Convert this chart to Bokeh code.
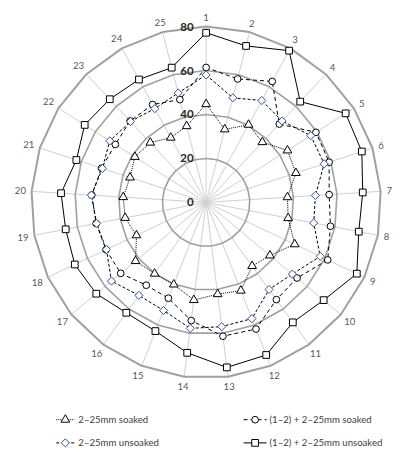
import numpy as np
from bokeh.plotting import figure
from bokeh.models import Range1d
from bokeh.embed import file_html
from bokeh.resources import INLINE
from bokeh.core.properties import value

# ---------------- data ----------------
categories = [str(i) for i in range(1, 26)]
ring_values = [0, 20, 40, 60, 80]
ring_labels = ["0", "20", "40", "60", "80"]

soaked_2_25 = [44.7, 34.3, 40.3, 37.6, 44.1, 43.2, 37.3, 38.2, 44.8, 37.9, 35.8, 43.2, 42.1,
               44.8, 40.2, 40.1, 41.9, 35.2, 37.7, 38.0, 36.6, 38.6, 37.3, 33.6, 35.8]
soaked_12_2_25 = [61.4, 58.0, 62.8, 48.9, 59.5, 59.2, 56.4, 57.9, 61.5, 54.0, 54.7, 62.0, 61.4,
                  54.2, 46.9, 46.6, 50.7, 50.6, 51.2, 52.4, 50.3, 49.2, 50.8, 50.8, 48.3]
unsoaked_2_25 = [58.0, 49.1, 52.9, 50.8, 56.7, 56.8, 50.1, 50.1, 57.7, 51.2, 49.0, 56.9, 57.0,
                 57.8, 52.9, 52.3, 56.2, 50.4, 51.0, 52.6, 49.9, 52.2, 50.5, 48.7, 51.4]
unsoaked_12_2_25 = [77.2, 73.5, 78.8, 62.9, 75.6, 74.9, 71.8, 71.1, 76.2, 69.8, 67.5, 74.7, 75.7,
                    69.0, 63.0, 62.1, 65.2, 66.4, 65.4, 66.5, 62.4, 65.8, 64.4, 63.8, 63.3]

series_names = ["2\u201325mm soaked", "(1\u20132) + 2\u201325mm soaked",
                "2\u201325mm unsoaked", "(1\u20132) + 2\u201325mm unsoaked"]

# ---------------- geometry ----------------
W, H = 392, 453            # canvas size (fits the window with its 8px margin)
RW, RH = 408, 469          # reference picture size the layout is modelled on
CX, CY = 214, 209          # centre in reference pixels
S = 2.275                  # reference pixels per value unit
K = W / RW                 # canvas / reference scale
FONT = "Lato"

n = len(categories)
theta = 2 * np.pi * np.arange(n) / n


def polar(vals):
    v = np.asarray(vals, dtype=float)
    return v * np.sin(theta), v * np.cos(theta)


def closed(a):
    return np.append(a, a[0])


def px(xp, yp):
    """reference pixel -> data coordinates (legend layout only)"""
    return (xp - CX) / S, (CY - yp) / S


def fs(v):
    return f"{v * K:.1f}px"


p = figure(width=W, height=H, output_backend="svg", toolbar_location=None,
           x_range=Range1d(-CX / S, (RW - CX) / S),
           y_range=Range1d(-(RH - CY) / S, CY / S),
           min_border=0, outline_line_color=None)
p.axis.visible = False
p.grid.visible = False
p.background_fill_color = "white"

# spokes
rmax = ring_values[-1]
sx, sy = polar([rmax] * n)
p.segment(x0=[0] * n, y0=[0] * n, x1=sx, y1=sy, line_color="#D0D0D0", line_width=1)

# rings (polygons)
for rv in ring_values[1:]:
    gx, gy = polar([rv] * n)
    p.line(closed(gx), closed(gy), line_color="#A0A0A0",
           line_width=2 if rv == rmax else 1.6)

# category labels (pushed out by half their extent)
half_w = np.array([len(c) * 2.75 for c in categories])
r_lab = (188 + half_w * np.abs(np.sin(theta)) + 3 * np.abs(np.cos(theta))) / S
lx, ly = r_lab * np.sin(theta), r_lab * np.cos(theta)
p.text(x=lx, y=ly, text=categories, text_font=value(FONT), text_font_size=fs(10),
       text_color="#595959", text_align="center", text_baseline="middle")

# radial value labels
p.text(x=[-13 / S] * len(ring_values), y=ring_values, text=ring_labels,
       text_font=value(FONT), text_font_size=fs(12), text_font_style="bold",
       text_color="#262626", text_align="right", text_baseline="middle")

styles = {
    3: dict(data=unsoaked_12_2_25, dash="solid", marker="square", size=7, angle=0, mcolor="black"),
    1: dict(data=soaked_12_2_25, dash="4 3", marker="circle", size=7, angle=0, mcolor="black"),
    2: dict(data=unsoaked_2_25, dash="3 2", marker="square", size=6, angle=np.pi / 4, mcolor="#2F5597"),
    0: dict(data=soaked_2_25, dash="1 1", marker="triangle", size=9, angle=0, mcolor="black"),
}

for si in [3, 1, 2, 0]:
    st = styles[si]
    x, y = polar(st["data"])
    p.line(closed(x), closed(y), line_color="black", line_width=1, line_dash=st["dash"])
    p.scatter(x, y, marker=st["marker"], size=st["size"] * K, angle=st["angle"],
              fill_color="white", line_color=st["mcolor"], line_width=1)

# ---------------- legend (2x2, reference pixel layout) ----------------
legend_layout = [  # (series index, line x0, line x1, text x, y) in reference px
    (0, 58, 77, 81, 434),
    (1, 253, 277, 280, 434),
    (2, 58, 77, 81, 458),
    (3, 253, 277, 280, 458),
]
for si, x0p, x1p, txp, yp in legend_layout:
    st = styles[si]
    xa, ya = px(x0p, yp)
    xb, _ = px(x1p, yp)
    xt, _ = px(txp, yp)
    p.line([xa, xb], [ya, ya], line_color="black", line_width=1, line_dash=st["dash"])
    p.scatter([(xa + xb) / 2], [ya], marker=st["marker"], size=st["size"] * K,
              angle=st["angle"], fill_color="white", line_color=st["mcolor"], line_width=1)
    p.text(x=[xt], y=[ya], text=[series_names[si]], text_font=value(FONT),
           text_font_size=fs(10), text_color="#404040", text_align="left",
           text_baseline="middle")

open("out.html", "w").write(file_html(p, INLINE))
